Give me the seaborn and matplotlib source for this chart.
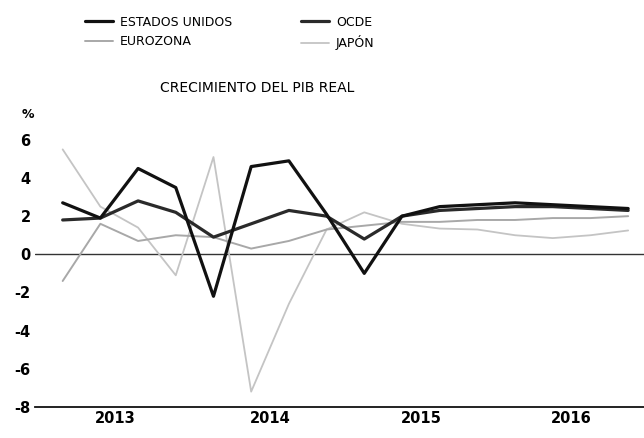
import numpy as np
import pandas as pd
import matplotlib
matplotlib.use('Agg')
import matplotlib.pyplot as plt
import seaborn as sns

# quarterly real GDP growth, 2013Q1 .. 2016Q4
quarters = list(range(16))
estados_unidos = [2.7, 1.9, 4.5, 3.5, -2.2, 4.6, 4.9, 2.1, -1.0, 2.0, 2.5, 2.6, 2.7, 2.6, 2.5, 2.4]
ocde = [1.8, 1.9, 2.8, 2.2, 0.9, 1.6, 2.3, 2.0, 0.8, 2.0, 2.3, 2.4, 2.5, 2.5, 2.4, 2.3]
eurozona = [-1.4, 1.6, 0.7, 1.0, 0.9, 0.3, 0.7, 1.3, 1.5, 1.7, 1.7, 1.8, 1.8, 1.9, 1.9, 2.0]
japon = [5.5, 2.5, 1.4, -1.1, 5.1, -7.2, -2.6, 1.3, 2.2, 1.6, 1.35, 1.3, 1.0, 0.85, 1.0, 1.25]
years = ['2013', '2014', '2015', '2016']
yticks = [6, 4, 2, 0, -2, -4, -6, -8]

df = pd.DataFrame({'q': quarters, 'ESTADOS UNIDOS': estados_unidos, 'OCDE': ocde,
                   'EUROZONA': eurozona, 'JAPÓN': japon})

sns.set_style('white')
plt.rcParams['font.family'] = ['DejaVu Sans']
plt.rcParams['text.color'] = 'black'
plt.rcParams['xtick.color'] = 'black'
plt.rcParams['ytick.color'] = 'black'

fig = plt.figure(figsize=(6.44, 4.38), dpi=100)
ax = fig.add_axes([0.054, 0.071, 0.946, 0.675])

ax.axhline(0, color='#333333', lw=1.0, zorder=1)

styles = {
    'JAPÓN': dict(color='#c4c4c4', lw=1.3),
    'EUROZONA': dict(color='#a8a8a8', lw=1.4),
    'OCDE': dict(color='#2a2a2a', lw=2.3),
    'ESTADOS UNIDOS': dict(color='#111111', lw=2.3),
}
handles = {}
for name, st in styles.items():
    sns.lineplot(data=df, x='q', y=name, ax=ax, color=st['color'], lw=st['lw'],
                 label=name, legend=False)
    handles[name] = ax.lines[-1]

ax.set_xlim(-0.74, 15.42)
ax.set_ylim(-8, 7.5)
ax.set_yticks(yticks)
ax.set_yticklabels([str(t) for t in yticks], fontweight='heavy', fontsize=10.5)
ax.set_xticks([1.4, 5.5, 9.5, 13.5])
ax.set_xticklabels(years, fontweight='heavy', fontsize=10.5)
ax.tick_params(axis='both', length=0, pad=3)
ax.set_xlabel('')
ax.set_ylabel('')
for s in ['top', 'right', 'left']:
    ax.spines[s].set_visible(False)
ax.spines['bottom'].set_color('#111111')
ax.spines['bottom'].set_linewidth(1.3)

# "%" unit label above the y tick labels
ax.text(-0.012, 1.01, '%', transform=ax.transAxes, ha='center', va='top',
        fontsize=9, fontweight='bold')

fig.text(0.40, 0.80, 'CRECIMIENTO DEL PIB REAL', ha='center', va='center', fontsize=10)

order = ['ESTADOS UNIDOS', 'EUROZONA', 'OCDE', 'JAPÓN']
fig.legend([handles[n] for n in order], order, ncol=2, loc='center',
           bbox_to_anchor=(0.357, 0.925), frameon=False, fontsize=9,
           handlelength=2.2, columnspacing=5.5, labelspacing=0.5, handletextpad=0.6)

fig.savefig('out.png', dpi=100)
